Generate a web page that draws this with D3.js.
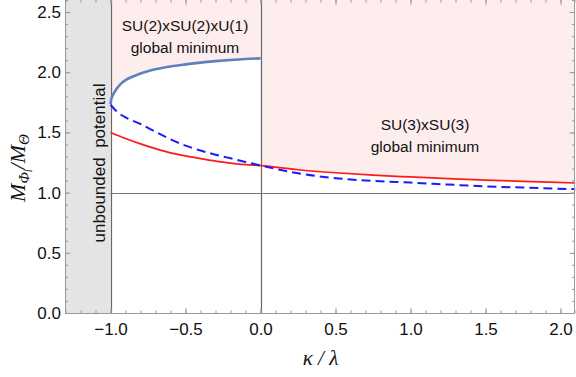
<!DOCTYPE html>
<html lang="en">
<head>
<meta charset="UTF-8" />
<title>Mass ratio vs kappa / lambda</title>
<style>
  * { margin:0; padding:0; box-sizing:border-box }
  body { background:#fff; width:576px; height:377px; overflow:hidden; }
  .tick text { font-family:"Liberation Sans", Arial, sans-serif; font-size:17px; fill:#111; }
  .note { font-family:"Liberation Sans", Arial, sans-serif; fill:#111; }
  .title { font-family:"Liberation Serif", "Times New Roman", serif; font-style:italic; fill:#111; }
</style>
</head>
<body>
<div id="chart"></div>
<script src="https://d3js.org/d3.v7.min.js"></script>
<script>
// ── data ───────────────────────────────────────────
// upper branch, SU(2)xSU(2)xU(1) boundary (steel blue, solid)
const kappaUpper = [-1, -0.995, -0.98, -0.96, -0.93, -0.9, -0.85, -0.8, -0.7, -0.6, -0.5, -0.4, -0.3, -0.2, -0.1, 0];
const massUpper  = [1.735, 1.775, 1.82, 1.86, 1.905, 1.935, 1.965, 1.99, 2.025, 2.048, 2.065, 2.08, 2.092, 2.102, 2.11, 2.115];

// lower branch (blue, dashed)
const kappaDashed = [-1, -0.95, -0.9, -0.8, -0.7, -0.6, -0.5, -0.4, -0.3, -0.2, -0.1, 0, 0.25, 0.5, 0.75, 1, 1.25, 1.5, 1.75, 2.1];
const massDashed  = [1.73, 1.665, 1.625, 1.57, 1.505, 1.443, 1.39, 1.35, 1.315, 1.285, 1.255, 1.226, 1.16, 1.12, 1.097, 1.083, 1.067, 1.052, 1.042, 1.028];

// SU(3)xSU(3) boundary (red, solid)
const kappaRed = [-1, -0.9, -0.8, -0.7, -0.6, -0.5, -0.4, -0.3, -0.2, -0.1, 0, 0.25, 0.5, 0.75, 1, 1.25, 1.5, 1.75, 2.1];
const massRed  = [1.5, 1.45, 1.405, 1.365, 1.33, 1.305, 1.283, 1.262, 1.245, 1.232, 1.224, 1.19, 1.165, 1.145, 1.13, 1.116, 1.104, 1.094, 1.08];

// axes
const xDomain = [-1.3, 2.1];
const yDomain = [0, 2.6];
const xTicks = [-1, -0.5, 0, 0.5, 1, 1.5, 2];
const yTicks = [0, 0.5, 1, 1.5, 2, 2.5];
const unboundedEdge = -1;   // left of this: unbounded potential
const refLevel = 1;         // horizontal guide

// ── layout ──────────────────────────────────────────
const W = 576, H = 377;
const x = d3.scaleLinear().domain(xDomain).range([65.5, 575.5]);
const y = d3.scaleLinear().domain(yDomain).range([313, 0]);

const svg = d3.select("#chart").append("svg")
  .attr("width", W).attr("height", H);

svg.append("defs").append("clipPath").attr("id", "clip")
  .append("rect")
  .attr("x", x(xDomain[0])).attr("y", 0)
  .attr("width", x(xDomain[1]) - x(xDomain[0]))
  .attr("height", y(0));

const plot = svg.append("g").attr("clip-path", "url(#clip)");

const zip = (ks, ms) => ks.map((k, i) => ({k, m: ms[i]}));
const upper  = zip(kappaUpper, massUpper);
const dashed = zip(kappaDashed, massDashed);
const red    = zip(kappaRed, massRed);

// gray "unbounded" band
plot.append("rect")
  .attr("x", x(xDomain[0])).attr("y", 0)
  .attr("width", x(unboundedEdge) - x(xDomain[0]))
  .attr("height", y(0))
  .attr("fill", "#e4e4e4");

// pink "global minimum" regions
const pinkArea = d3.area()
  .x(d => x(d.k)).y0(d => y(d.m)).y1(y(yDomain[1]))
  .curve(d3.curveMonotoneX);
plot.append("path").datum(upper)
  .attr("d", pinkArea).attr("fill", "#fdeded");
plot.append("path").datum(red.filter(d => d.k >= 0))
  .attr("d", pinkArea).attr("fill", "#fdeded");

// guides
plot.append("line")
  .attr("x1", x(unboundedEdge)).attr("x2", x(xDomain[1]))
  .attr("y1", Math.round(y(refLevel)) + 0.5).attr("y2", Math.round(y(refLevel)) + 0.5)
  .attr("stroke", "#777").attr("stroke-width", 1);
[unboundedEdge, 0].forEach(v => {
  plot.append("line")
    .attr("x1", Math.round(x(v)) + 0.5).attr("x2", Math.round(x(v)) + 0.5)
    .attr("y1", 0).attr("y2", y(0))
    .attr("stroke", "#666").attr("stroke-width", 1.2);
});

// curves
const line = d3.line().x(d => x(d.k)).y(d => y(d.m)).curve(d3.curveMonotoneX);
plot.append("path").datum(red)
  .attr("d", line).attr("fill", "none")
  .attr("stroke", "#ff1a1a").attr("stroke-width", 1.7);
plot.append("path").datum(dashed)
  .attr("d", line).attr("fill", "none")
  .attr("stroke", "#1a1aff").attr("stroke-width", 2)
  .attr("stroke-dasharray", "9,5");
plot.append("path").datum(upper)
  .attr("d", line).attr("fill", "none")
  .attr("stroke", "#5d82bb").attr("stroke-width", 2.6);

// ── frame & ticks ───────────────────────────────────
const xMinor = d3.range(-13, 22).map(v => v / 10);
const yMinor = d3.range(0, 27).map(v => v / 10);
const fmt = d3.format(".1f");
const frameColor = "#999";

function styleAxis(g) {
  g.select(".domain").remove();
  g.selectAll(".tick line").attr("stroke", frameColor);
}

// bottom
svg.append("g").attr("transform", `translate(0,${y(0)})`)
  .call(d3.axisBottom(x).tickValues(xMinor).tickSize(-2.5).tickFormat(""))
  .call(styleAxis);
svg.append("g").attr("transform", `translate(0,${y(0)})`)
  .call(d3.axisBottom(x).tickValues(xTicks).tickSize(-5).tickPadding(10).tickFormat(fmt))
  .call(styleAxis);
// top
svg.append("g").attr("transform", `translate(0,0)`)
  .call(d3.axisTop(x).tickValues(xMinor).tickSize(-2.5).tickFormat(""))
  .call(styleAxis);
svg.append("g").attr("transform", `translate(0,0)`)
  .call(d3.axisTop(x).tickValues(xTicks).tickSize(-5).tickFormat(""))
  .call(styleAxis);
// left
svg.append("g").attr("transform", `translate(${x(xDomain[0])},0)`)
  .call(d3.axisLeft(y).tickValues(yMinor).tickSize(-2.5).tickFormat(""))
  .call(styleAxis);
svg.append("g").attr("transform", `translate(${x(xDomain[0])},0)`)
  .call(d3.axisLeft(y).tickValues(yTicks).tickSize(-5).tickPadding(4.5).tickFormat(fmt))
  .call(styleAxis);
// right
svg.append("g").attr("transform", `translate(${x(xDomain[1]) - 1},0)`)
  .call(d3.axisRight(y).tickValues(yMinor).tickSize(-2.5).tickFormat(""))
  .call(styleAxis);
svg.append("g").attr("transform", `translate(${x(xDomain[1]) - 1},0)`)
  .call(d3.axisRight(y).tickValues(yTicks).tickSize(-5).tickFormat(""))
  .call(styleAxis);

// frame lines
svg.append("path")
  .attr("d", `M${x(xDomain[0])},0V${y(0) + 0.5}H${x(xDomain[1]) - 1}V0`)
  .attr("fill", "none").attr("stroke", frameColor).attr("stroke-width", 1);

// ── annotations ────────────────────────────────────
svg.append("text").attr("class", "note")
  .attr("transform", `translate(105,163) rotate(-90)`)
  .attr("text-anchor", "middle").attr("font-size", 17)
  .text("unbounded\u00a0\u00a0potential");

svg.append("text").attr("class", "note")
  .attr("x", 185).attr("y", 31).attr("text-anchor", "middle").attr("font-size", 15.5)
  .text("SU(2)xSU(2)xU(1)");
svg.append("text").attr("class", "note")
  .attr("x", 185).attr("y", 53).attr("text-anchor", "middle").attr("font-size", 15.5)
  .text("global minimum");

svg.append("text").attr("class", "note")
  .attr("x", 425).attr("y", 130).attr("text-anchor", "middle").attr("font-size", 15.5)
  .text("SU(3)xSU(3)");
svg.append("text").attr("class", "note")
  .attr("x", 425).attr("y", 152).attr("text-anchor", "middle").attr("font-size", 15.5)
  .text("global minimum");

// axis titles
svg.append("text").attr("class", "title")
  .attr("x", (x(xDomain[0]) + x(xDomain[1])) / 2).attr("y", 365)
  .attr("text-anchor", "middle").attr("font-size", 21)
  .text("\u03ba / \u03bb");

const yt = svg.append("text").attr("class", "title")
  .attr("transform", `translate(25,168) rotate(-90)`)
  .attr("text-anchor", "middle").attr("font-size", 22);
yt.append("tspan").text("M");
yt.append("tspan").attr("font-size", 15).attr("dy", 4).text("\u03a6");
yt.append("tspan").attr("font-size", 10).attr("dy", 3).text("l");
yt.append("tspan").attr("dy", -7).text("/M");
yt.append("tspan").attr("font-size", 15).attr("dy", 4).text("\u0398");
</script>
</body>
</html>
